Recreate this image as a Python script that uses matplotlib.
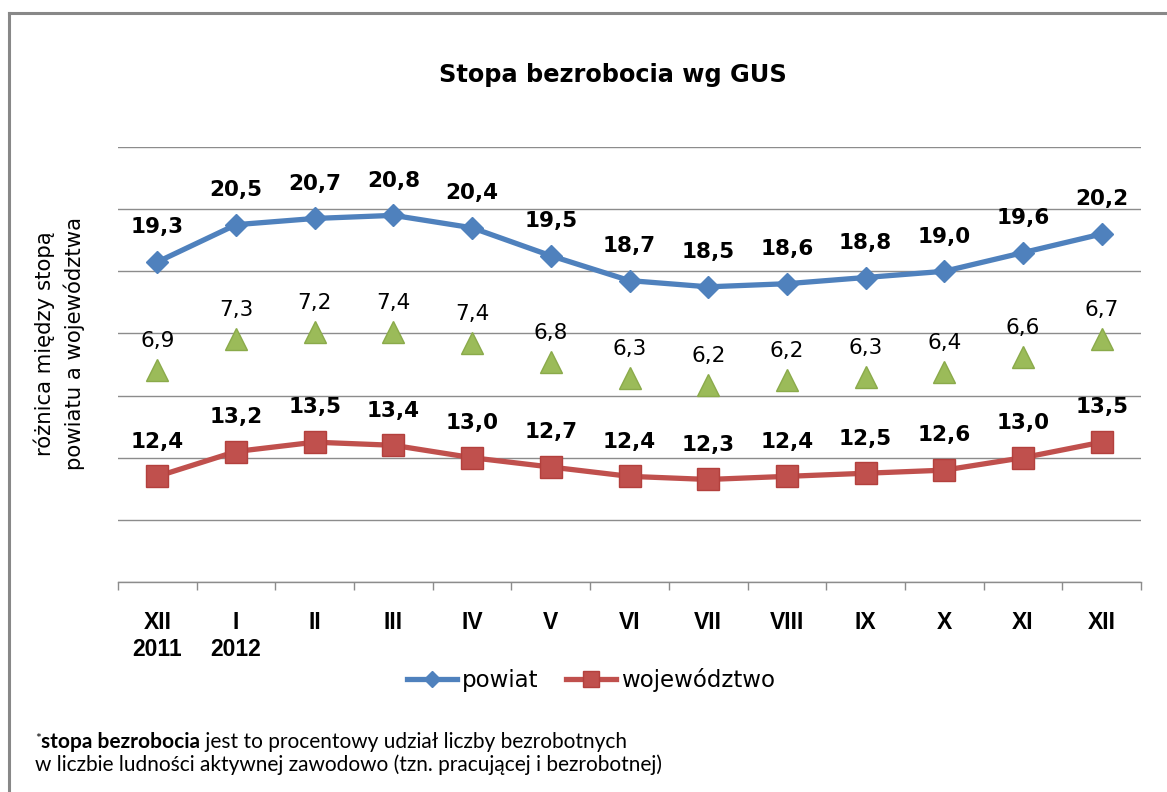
import matplotlib
matplotlib.use("Agg")
import matplotlib.pyplot as plt
from matplotlib.lines import Line2D
from matplotlib.transforms import IdentityTransform
import numpy as np

# dane
miesiace = ["XII\n2011", "I\n2012", "II", "III", "IV", "V", "VI",
            "VII", "VIII", "IX", "X", "XI", "XII"]
powiat = [19.3, 20.5, 20.7, 20.8, 20.4, 19.5, 18.7, 18.5, 18.6, 18.8, 19.0, 19.6, 20.2]
wojewodztwo = [12.4, 13.2, 13.5, 13.4, 13.0, 12.7, 12.4, 12.3, 12.4, 12.5, 12.6, 13.0, 13.5]
# roznica - etykiety i polozenie trojkatow na osi pomocniczej
roznica = [6.9, 7.3, 7.2, 7.4, 7.4, 6.8, 6.3, 6.2, 6.2, 6.3, 6.4, 6.6, 6.7]
roznica_poz = [6.53, 7.35, 7.53, 7.53, 7.24, 6.74, 6.32, 6.14, 6.27, 6.35, 6.47, 6.87, 7.35]

BLUE = "#4F81BD"
RED = "#C0504D"
GREEN = "#9BBB59"
GRID = "#8C8C8C"

W, H = 1167, 792
fig = plt.figure(figsize=(W / 100, H / 100), dpi=100)
ax = fig.add_axes([118 / W, 1 - 582 / H, (1141 - 118) / W, 435 / H])

x = np.arange(len(miesiace))

ax.set_xlim(-0.5, len(miesiace) - 0.5)
ax.set_ylim(9, 23)
ax.set_yticks(np.arange(9, 24, 2))
ax.yaxis.grid(True, color=GRID, lw=1.0)
ax.set_axisbelow(True)
ax.tick_params(axis="y", length=0, labelleft=False)
for s in ["left", "right", "top"]:
    ax.spines[s].set_visible(False)
ax.spines["bottom"].set_color(GRID)
ax.spines["bottom"].set_linewidth(1.0)

ax.set_xticks(x)
ax.set_xticklabels(miesiace, fontsize=16.5, fontweight="bold", family="Liberation Sans")
ax.set_xticks(np.arange(-0.5, len(miesiace), 1), minor=True)
ax.tick_params(axis="x", which="major", length=0, pad=21)
ax.tick_params(axis="x", which="minor", length=6, color=GRID, width=1.0, direction="out")

ax.plot(x, powiat, color=BLUE, lw=3.8, marker="D", ms=11.5, mfc=BLUE, mec=BLUE,
        label="powiat", zorder=3)
ax.plot(x, wojewodztwo, color=RED, lw=3.8, marker="s", ms=16, mfc=RED, mec="#B3403D",
        label="województwo", zorder=3)

for xi, v in zip(x, powiat):
    ax.annotate(f"{v:.1f}".replace(".", ","), (xi, v), xytext=(0, 25), textcoords="offset points",
                ha="center", va="center", fontsize=15.5, fontweight="bold")
for xi, v in zip(x, wojewodztwo):
    ax.annotate(f"{v:.1f}".replace(".", ","), (xi, v), xytext=(0, 25), textcoords="offset points",
                ha="center", va="center", fontsize=15.5, fontweight="bold")

ax2 = ax.twinx()
ax2.set_ylim(0.95, 12.4)
ax2.set_axis_off()
ax2.plot(x, roznica_poz, ls="none", marker="^", ms=16, mfc=GREEN, mec="#8AAA4A", zorder=3)
for xi, p, v in zip(x, roznica_poz, roznica):
    ax2.annotate(f"{v:.1f}".replace(".", ","), (xi, p), xytext=(0, 21), textcoords="offset points",
                 ha="center", va="center", fontsize=15.5)

fig.text(613 / W, 1 - 75 / H, "Stopa bezrobocia wg GUS", ha="center", va="center",
         fontsize=17.3, fontweight="bold")
fig.text(59 / W, 1 - 344 / H, "różnica między stopą\npowiatu a województwa", rotation=90,
         ha="center", va="center", multialignment="center", fontsize=15.3, linespacing=1.5)

h, l = ax.get_legend_handles_labels()
fig.legend(h, l, loc="center", bbox_to_anchor=(591 / W, 1 - 680 / H), ncol=2, frameon=False,
           fontsize=16.5, handlelength=2.2, handletextpad=0.2, columnspacing=1.2, markerscale=0.75)

# ramka
fig.add_artist(Line2D([9 / W, 1], [1 - 13 / H, 1 - 13 / H], transform=fig.transFigure,
                      color="#888888", lw=2.2))
fig.add_artist(Line2D([9 / W, 9 / W], [0, 1 - 13 / H], transform=fig.transFigure,
                      color="#888888", lw=2.2))

# przypis
renderer = fig.canvas.get_renderer()
px, base1 = 35, H - 748
t = fig.text(px, base1 + 5, "*", transform=IdentityTransform(), fontsize=10, family="Lato")
px = t.get_window_extent(renderer).x1
t = fig.text(px, base1, "stopa bezrobocia", transform=IdentityTransform(), va="baseline",
             fontsize=15, family="Lato", fontweight="bold")
px = t.get_window_extent(renderer).x1
fig.text(px, base1, " jest to procentowy udział liczby bezrobotnych", transform=IdentityTransform(),
         va="baseline", fontsize=15, family="Lato")
fig.text(35, H - 771, "w liczbie ludności aktywnej zawodowo (tzn. pracującej i bezrobotnej)",
         transform=IdentityTransform(), va="baseline", fontsize=15, family="Lato")

fig.savefig("out.png", dpi=100)
